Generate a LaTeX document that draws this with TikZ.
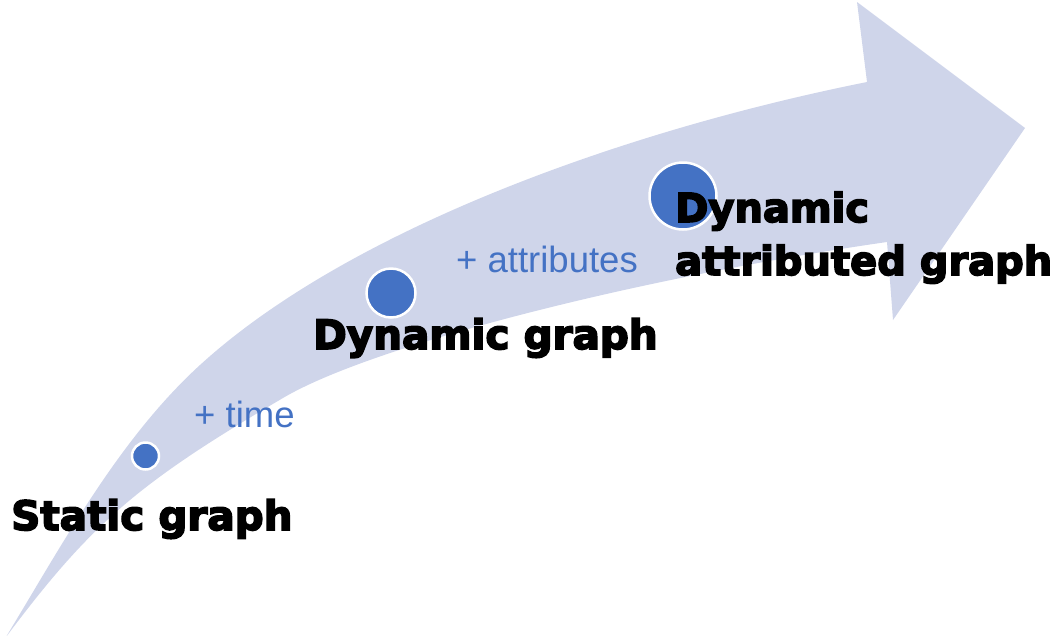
\documentclass[tikz,border=0pt]{standalone}
\usepackage{fontspec}
\setmainfont{Liberation Sans}
\newfontfamily\heavy[FakeBold=4]{DejaVu Sans Bold}
\definecolor{band}{HTML}{CFD5EA}
\definecolor{dotblue}{HTML}{4472C4}
\tikzset{
  dot/.style={circle, fill=dotblue, draw=white, line width=2.5pt, inner sep=0pt},
  title/.style={anchor=base west, inner sep=0pt, font=\heavy\fontsize{40.5}{53}\selectfont, text=black, align=left},
  step label/.style={anchor=base west, inner sep=0pt, font=\fontsize{36.5}{40}\selectfont, text=dotblue}
}
\begin{document}
\begin{tikzpicture}[x=1pt,y=-1pt]
\useasboundingbox (0,0) rectangle (1051,635);
% curved arrow
\fill[band] (6,637) .. controls (63,543) and (119,439) .. (200,365)
  .. controls (348,230) and (622,131) .. (867,82)
  -- (857,2) -- (1025,128) -- (893,320) -- (887,242)
  .. controls (630,279) and (369,347) .. (283,398)
  .. controls (136,484) and (90,525) .. cycle;
% dots
\node[dot, minimum size=27pt] (d1) at (145.5,456) {};
\node[dot, minimum size=49pt] (d2) at (391,293) {};
\node[dot, minimum size=67pt] (d3) at (683,196) {};
% labels
\node[step label] (l1) at (194,427) {+ time};
\node[step label] (l2) at (456,272) {+ attributes};
\node[title] (t1) at (11,530) {Static graph};
\node[title] (t2) at (313,349) {Dynamic graph};
\node[title, font=\heavy\fontsize{40}{53}\selectfont] (t3) at (675,275) {Dynamic\\attributed graph};
\end{tikzpicture}
\end{document}
